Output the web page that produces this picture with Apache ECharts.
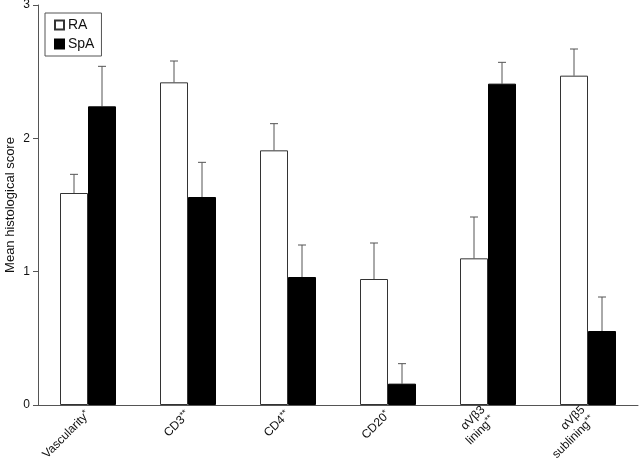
<!DOCTYPE html>
<html>
<head>
<meta charset="utf-8">
<script src="https://cdn.jsdelivr.net/npm/echarts@6/dist/echarts.min.js"></script>
<style>
html,body{margin:0;padding:0;background:#fff;}
#c{width:640px;height:469px;}
</style>
</head>
<body>
<div id="c"></div>
<script>
var categories = ['Vascularity', 'CD3', 'CD4', 'CD20', 'αVβ3\nlining', 'αVβ5\nsublining'];
var marks = ['*', '**', '**', '*', '**', '**'];
var raMean = [1.59, 2.42, 1.91, 0.945, 1.10, 2.47];
var raSem = [0.14, 0.16, 0.20, 0.27, 0.31, 0.20];
var spaMean = [2.24, 1.56, 0.96, 0.16, 2.41, 0.555];
var spaSem = [0.30, 0.26, 0.24, 0.15, 0.16, 0.255];
var yTicks = [0, 1, 2, 3];

var FONT = '"Liberation Sans", Arial, Helvetica, sans-serif';

function errSeries(name, means, sems, side) {
  var data = means.map(function (m, i) { return [i, m, m + sems[i]]; });
  return {
    type: 'custom',
    name: name + ' err',
    z: 1,
    silent: true,
    data: data,
    renderItem: function (params, api) {
      var band = api.size([1, 0])[0];
      var off = side * band * 0.14;
      var p0 = api.coord([api.value(0), api.value(1)]);
      var p1 = api.coord([api.value(0), api.value(2)]);
      var x = p0[0] + off;
      var cap = 4;
      var st = { stroke: '#555', lineWidth: 1 };
      return {
        type: 'group',
        children: [
          { type: 'line', shape: { x1: x, y1: p0[1], x2: x, y2: p1[1] }, style: st },
          { type: 'line', shape: { x1: x - cap, y1: p1[1], x2: x + cap, y2: p1[1] }, style: st }
        ]
      };
    }
  };
}

var chart = echarts.init(document.getElementById('c'));
chart.setOption({
  animation: false,
  backgroundColor: '#fff',
  textStyle: { fontFamily: FONT },
  grid: { left: 38, right: 2, top: 5, bottom: 64, containLabel: false, outerBoundsMode: 'none' },
  legend: {
    data: ['RA', 'SpA'],
    orient: 'vertical',
    left: 45,
    top: 13,
    padding: [5, 7, 5, 9],
    itemWidth: 9,
    itemHeight: 9,
    itemGap: 5,
    borderColor: '#555',
    borderWidth: 1,
    icon: 'rect',
    textStyle: { fontSize: 14, color: '#111', fontFamily: FONT, padding: [0, 0, 0, -1] }
  },
  xAxis: {
    type: 'category',
    data: categories,
    axisLine: { lineStyle: { color: '#555', width: 1 } },
    axisTick: { inside: true, length: 7, lineStyle: { color: '#555' } },
    axisLabel: {
      rotate: 45,
      margin: 8,
      color: '#111',
      fontSize: 12,
      fontFamily: FONT,
      formatter: function (v, i) {
        var parts = v.split('\n');
        var out = parts.map(function (p, k) {
          var s = '{n|' + p + '}';
          if (k === parts.length - 1) s += '{s|' + marks[i] + '}';
          return s;
        });
        return out.join('\n');
      },
      rich: {
        n: { fontSize: 12, fontFamily: FONT, color: '#111', lineHeight: 14 },
        s: { fontSize: 9, fontFamily: FONT, color: '#111', verticalAlign: 'top', lineHeight: 14, padding: [0, 0, 4, 0] }
      }
    }
  },
  yAxis: {
    type: 'value',
    min: 0,
    max: 3,
    interval: 1,
    name: 'Mean histological score',
    nameLocation: 'middle',
    nameGap: 21,
    nameMoveOverlap: false,
    nameTextStyle: { fontSize: 13, color: '#111', fontFamily: FONT },
    splitLine: { show: false },
    axisLine: { show: true, lineStyle: { color: '#555', width: 1 } },
    axisTick: { show: true, length: 5, lineStyle: { color: '#555' } },
    axisLabel: {
      color: '#111', fontSize: 12, margin: 8, fontFamily: FONT,
      formatter: function (v) { return yTicks.indexOf(v) >= 0 ? String(v) : ''; }
    }
  },
  series: [
    {
      name: 'RA', type: 'bar', data: raMean, barWidth: '28%', barGap: '0%', z: 2,
      itemStyle: { color: '#fff', borderColor: '#333', borderWidth: 1 }
    },
    {
      name: 'SpA', type: 'bar', data: spaMean, barWidth: '28%', barGap: '0%', z: 2,
      itemStyle: { color: '#000', borderColor: '#000', borderWidth: 1 }
    },
    errSeries('RA', raMean, raSem, -1),
    errSeries('SpA', spaMean, spaSem, 1)
  ]
});
</script>
</body>
</html>
